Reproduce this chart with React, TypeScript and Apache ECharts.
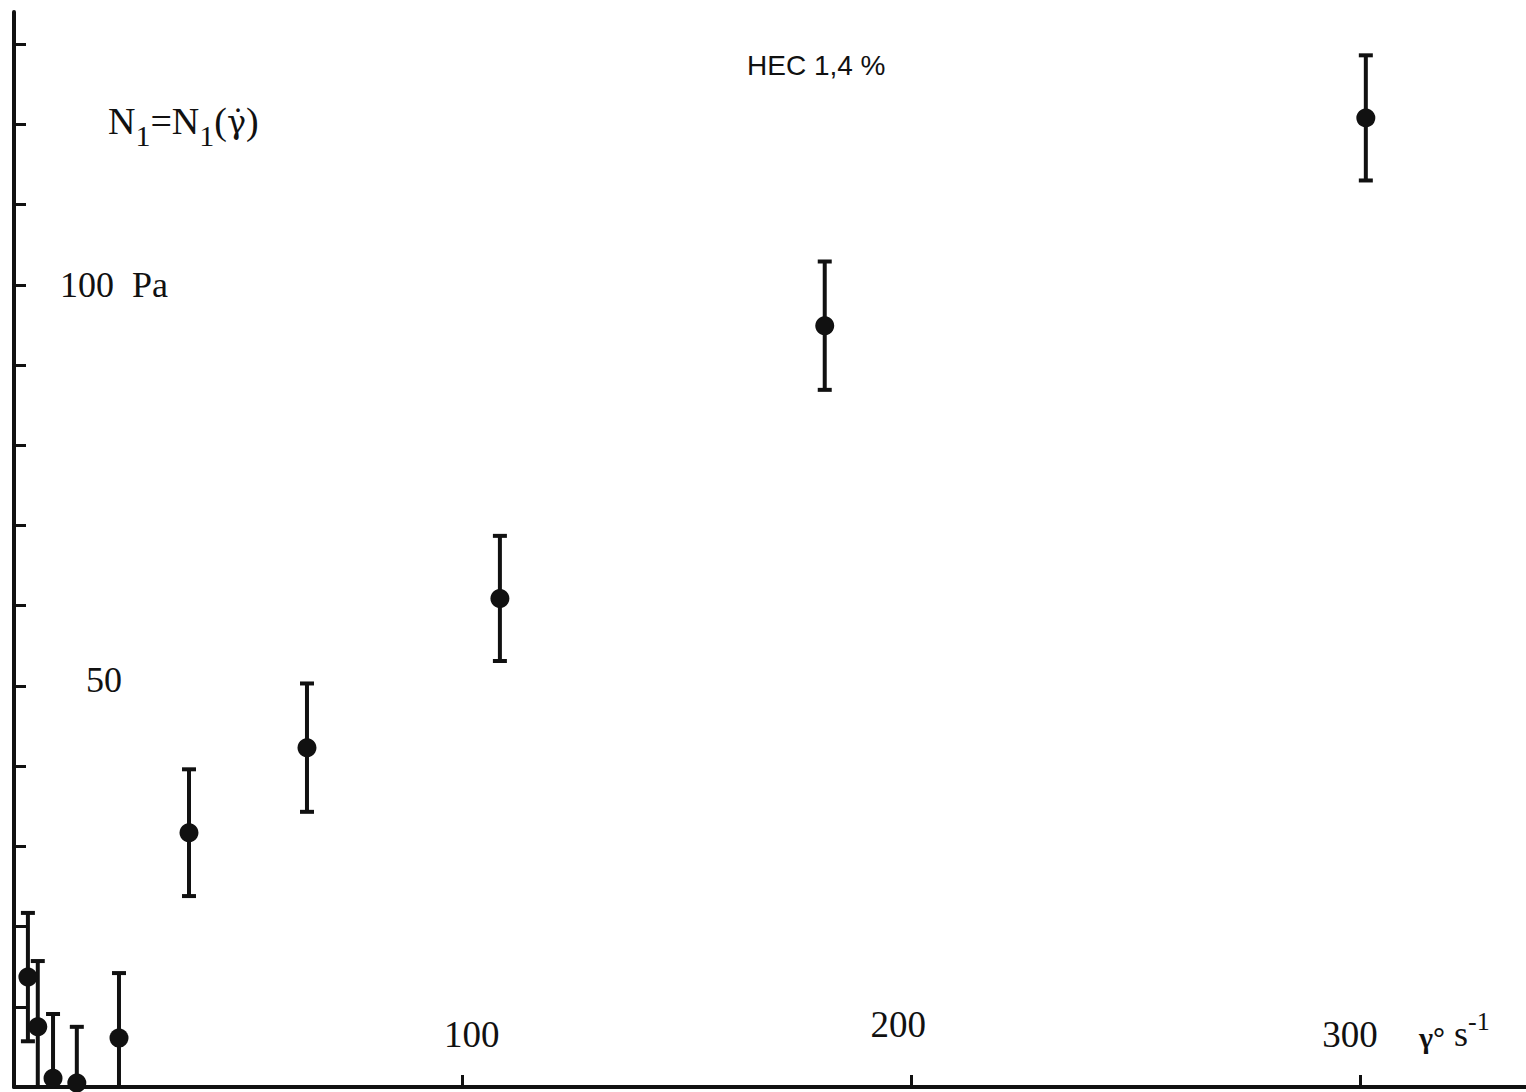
import React, { useEffect, useRef } from 'react';
import * as echarts from 'echarts';

// shear rate (s-1), first normal stress difference N1 (Pa) and its error bar half-width (Pa)
const shearRate = [3.1, 5.3, 8.7, 14.0, 23.4, 39.0, 65.3, 108.3, 180.7, 301.3];
const n1Values = [13.7, 7.5, 1.1, 0.5, 6.1, 31.7, 42.3, 60.9, 94.9, 120.8];
const n1Error = [8.0, 8.2, 8.0, 7.0, 8.1, 7.9, 8.0, 7.8, 8.0, 7.8];

const xTickValues = [100, 200, 300];
const xTickLabels = ['100', '200', '300'];
const yTickValues = [10, 20, 30, 40, 50, 60, 70, 80, 90, 100, 110, 120, 130];
const yLabelValues = [50, 100];
const yLabelTexts = ['50', '100  Pa'];

const INK = '#111';
const SERIF = '"Liberation Serif", "Times New Roman", serif';

export default function App() {
  const ref = useRef<HTMLDivElement>(null);

  useEffect(() => {
    document.body.style.margin = '0';
    const chart = echarts.init(ref.current!, null, { renderer: 'svg' });
    const errData = shearRate.map((x, i) => [x, n1Values[i] - n1Error[i], n1Values[i] + n1Error[i]]);
    const ptData = shearRate.map((x, i) => [x, n1Values[i]]);

    chart.setOption({
      animation: false,
      backgroundColor: '#fff',
      grid: { left: 14, right: 0, top: 12, bottom: 5, containLabel: false, outerBoundsMode: 'none' },
      xAxis: {
        type: 'value',
        min: 0,
        max: 337,
        interval: 100,
        axisLine: { show: true, lineStyle: { color: INK, width: 4 } },
        axisTick: { show: true, inside: true, length: 12, customValues: xTickValues, lineStyle: { color: INK, width: 3 } },
        splitLine: { show: false },
        axisLabel: {
          show: true,
          inside: true,
          margin: 34,
          customValues: xTickValues,
          formatter: (v: number) => {
            const i = xTickValues.indexOf(v);
            return i < 0 ? '' : `{x${i}|${xTickLabels[i]}}`;
          },
          color: INK,
          fontFamily: SERIF,
          fontSize: 37,
          rich: {
            x0: { fontFamily: SERIF, fontSize: 37, color: INK, padding: [0, 0, 0, 18] },
            x1: { fontFamily: SERIF, fontSize: 37, color: INK, padding: [0, 26, 10, 0] },
            x2: { fontFamily: SERIF, fontSize: 37, color: INK, padding: [0, 20, 0, 0] },
          },
        },
      },
      yAxis: {
        type: 'value',
        min: 0,
        max: 134,
        interval: 10,
        axisLine: { show: true, lineStyle: { color: INK, width: 4 } },
        axisTick: { show: true, inside: true, length: 12, customValues: yTickValues, lineStyle: { color: INK, width: 3 } },
        splitLine: { show: false },
        axisLabel: {
          show: true,
          inside: true,
          margin: 46,
          customValues: yLabelValues,
          formatter: (v: number) => {
            const i = yLabelValues.indexOf(v);
            if (i < 0) return '';
            return v === 50 ? `{a|${yLabelTexts[i]}}` : `{b|${yLabelTexts[i]}}`;
          },
          color: INK,
          fontFamily: SERIF,
          fontSize: 36,
          rich: {
            a: { fontFamily: SERIF, fontSize: 36, color: INK, padding: [0, 0, 12, 26] },
            b: { fontFamily: SERIF, fontSize: 36, color: INK },
          },
        },
      },
      graphic: [
        {
          type: 'text',
          left: 747,
          top: 51,
          style: { text: 'HEC 1,4 %', fontFamily: '"Liberation Sans", Arial, sans-serif', fontSize: 28, fill: INK },
        },
        {
          type: 'text',
          left: 108,
          top: 102,
          style: {
            text: '{n|N}{s|1}{n|=N}{s|1}{n|(}{g|γ̇}{n|)}',
            fill: INK,
            rich: {
              n: { fontFamily: SERIF, fontSize: 38, lineHeight: 48, verticalAlign: 'top', fill: INK },
              g: { fontFamily: '"DejaVu Serif", serif', fontSize: 32, lineHeight: 48, verticalAlign: 'top', padding: [4, 0, 0, 0], fill: INK },
              s: { fontFamily: SERIF, fontSize: 30, lineHeight: 30, verticalAlign: 'bottom', fill: INK },
            },
          },
        },
        {
          type: 'text',
          left: 1419,
          top: 1008,
          style: {
            text: '{g|γ°}{u| s}{e|-1}',
            fill: INK,
            rich: {
              g: { fontFamily: SERIF, fontSize: 30, fontWeight: 'bold', lineHeight: 44, verticalAlign: 'bottom', fill: INK },
              u: { fontFamily: SERIF, fontSize: 36, lineHeight: 44, verticalAlign: 'bottom', fill: INK },
              e: { fontFamily: SERIF, fontSize: 26, lineHeight: 26, verticalAlign: 'top', fill: INK },
            },
          },
        },
      ],
      series: [
        {
          type: 'custom',
          clip: true,
          data: errData,
          encode: { x: 0, y: [1, 2] },
          renderItem: (params: any, api: any) => {
            const lo = api.coord([api.value(0), api.value(1)]);
            const hi = api.coord([api.value(0), api.value(2)]);
            const hw = 7;
            const st = { stroke: INK, lineWidth: 4 };
            return {
              type: 'group',
              children: [
                { type: 'line', shape: { x1: lo[0], y1: lo[1], x2: hi[0], y2: hi[1] }, style: st },
                { type: 'line', shape: { x1: hi[0] - hw, y1: hi[1], x2: hi[0] + hw, y2: hi[1] }, style: st },
                { type: 'line', shape: { x1: lo[0] - hw, y1: lo[1], x2: lo[0] + hw, y2: lo[1] }, style: st },
              ],
            };
          },
          z: 2,
        },
        {
          type: 'scatter',
          data: ptData,
          symbol: 'circle',
          symbolSize: 19,
          itemStyle: { color: INK, opacity: 1 },
          z: 3,
        },
      ],
    });
    return () => chart.dispose();
  }, []);

  return <div ref={ref} style={{ width: 1526, height: 1092 }} />;
}
